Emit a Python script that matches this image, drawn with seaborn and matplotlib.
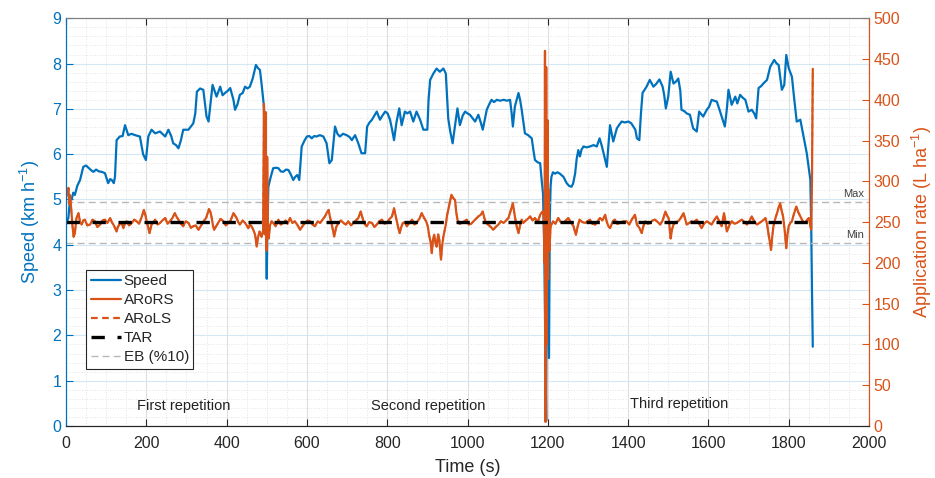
import seaborn as sb
import matplotlib.pyplot as plt
from matplotlib.ticker import MultipleLocator
from matplotlib.lines import Line2D

sb.set_style('ticks')
plt.rcParams['font.family'] = ['Liberation Sans', 'DejaVu Sans']
plt.rcParams['mathtext.default'] = 'regular'

azul = '#0072BD'
laranja = '#D95319'

# velocidade (km/h)
tempo_vel = [0, 2, 6, 10, 14, 18, 22, 28, 35, 43, 50, 56, 62, 68, 75, 82, 89, 97, 105, 110, 114, 119, 122,
             126, 134, 141, 147, 155, 163, 172, 184, 192, 199, 205, 213, 222, 234, 247, 255, 262, 267, 274,
             280, 286, 292, 305, 317, 322, 326, 334, 342, 350, 355, 365, 375, 384, 390, 396, 403, 409, 417,
             421, 427, 433, 440, 446, 452, 458, 465, 473, 478, 483, 487, 493, 496, 498, 500, 502, 504, 510,
             516, 523, 529, 535, 541, 548, 554, 560, 566, 571, 576, 581, 587, 594, 600, 606, 612, 618, 624,
             632, 641, 649, 656, 662, 670, 676, 682, 690, 699, 706, 712, 720, 728, 736, 745, 750, 756, 762,
             768, 774, 782, 788, 795, 801, 807, 812, 817, 823, 830, 836, 844, 850, 857, 865, 873, 882, 890,
             900, 903, 907, 915, 923, 931, 940, 946, 952, 957, 963, 970, 975, 981, 988, 994, 1000, 1006,
             1012, 1019, 1027, 1033, 1038, 1044, 1048, 1054, 1060, 1066, 1073, 1081, 1090, 1098, 1106, 1110,
             1113, 1118, 1127, 1131, 1135, 1140, 1143, 1151, 1160, 1164, 1168, 1175, 1181, 1185, 1188, 1191,
             1193, 1195, 1196, 1197, 1199, 1201, 1203, 1205, 1207, 1209, 1213, 1218, 1224, 1230, 1239, 1247,
             1253, 1259, 1263, 1268, 1272, 1276, 1280, 1284, 1289, 1297, 1305, 1314, 1322, 1329, 1334, 1339,
             1347, 1351, 1355, 1363, 1372, 1378, 1384, 1392, 1401, 1408, 1413, 1418, 1422, 1428, 1432, 1436,
             1446, 1454, 1463, 1470, 1478, 1486, 1490, 1494, 1500, 1506, 1513, 1519, 1525, 1530, 1533, 1540,
             1546, 1554, 1562, 1571, 1577, 1587, 1596, 1602, 1608, 1614, 1621, 1627, 1633, 1641, 1646, 1650,
             1658, 1667, 1672, 1679, 1685, 1692, 1700, 1708, 1714, 1719, 1725, 1731, 1737, 1746, 1754, 1764,
             1770, 1775, 1779, 1783, 1789, 1794, 1800, 1808, 1814, 1820, 1829, 1837, 1845, 1850, 1854, 1856,
             1858, 1860]
velocidade = [4.45, 4.5, 4.6, 5.0, 5.0, 5.15, 5.1, 5.3, 5.43, 5.72, 5.75, 5.7, 5.65, 5.61, 5.66, 5.62, 5.61,
              5.58, 5.36, 5.45, 5.43, 5.36, 5.5, 6.31, 6.39, 6.4, 6.64, 6.42, 6.45, 6.42, 6.39, 6.0, 5.87,
              6.39, 6.54, 6.46, 6.5, 6.39, 6.54, 6.4, 6.24, 6.2, 6.13, 6.3, 6.54, 6.54, 6.68, 6.9, 7.38, 7.45,
              7.42, 6.83, 6.72, 7.53, 7.27, 7.49, 7.3, 7.35, 7.4, 7.46, 7.2, 6.98, 7.1, 7.31, 7.35, 7.49,
              7.45, 7.49, 7.67, 7.97, 7.9, 7.86, 7.56, 7.05, 6.0, 4.5, 3.25, 4.6, 5.28, 5.5, 5.69, 5.7, 5.69,
              5.62, 5.61, 5.66, 5.65, 5.55, 5.43, 5.5, 5.54, 5.43, 6.17, 6.3, 6.39, 6.4, 6.35, 6.4, 6.39,
              6.42, 6.39, 6.24, 5.8, 5.87, 6.61, 6.45, 6.39, 6.45, 6.42, 6.38, 6.31, 6.42, 6.24, 6.02, 6.02,
              6.61, 6.7, 6.76, 6.85, 6.94, 6.76, 6.85, 6.94, 6.9, 6.76, 6.55, 6.31, 6.7, 7.01, 6.64, 6.94,
              6.9, 6.94, 6.72, 6.94, 6.76, 6.54, 6.54, 7.2, 7.64, 7.78, 7.89, 7.82, 7.89, 7.78, 6.79, 6.5,
              6.24, 6.7, 7.01, 6.64, 6.85, 6.94, 6.9, 6.87, 6.8, 6.72, 6.87, 6.7, 6.54, 6.8, 6.98, 7.1, 7.2,
              7.15, 7.2, 7.18, 7.2, 7.18, 7.2, 6.9, 6.61, 7.05, 7.35, 7.2, 6.98, 6.65, 6.46, 6.42, 6.35, 6.1,
              5.87, 5.82, 5.8, 5.4, 5.14, 4.0, 2.5, 0.8, 0.12, 3.0, 4.8, 3.2, 1.5, 4.6, 5.3, 5.5, 5.6, 5.57,
              5.6, 5.57, 5.5, 5.36, 5.3, 5.28, 5.35, 5.57, 5.9, 6.09, 5.95, 6.1, 6.17, 6.15, 6.17, 6.2, 6.17,
              6.35, 6.2, 6.02, 5.72, 6.2, 6.64, 6.28, 6.57, 6.65, 6.72, 6.7, 6.72, 6.68, 6.61, 6.54, 6.35,
              6.31, 6.9, 7.35, 7.49, 7.64, 7.49, 7.55, 7.65, 7.49, 7.3, 7.01, 7.27, 7.82, 7.56, 7.6, 7.67,
              7.4, 6.98, 6.95, 6.9, 6.87, 6.57, 6.5, 6.94, 6.83, 6.98, 7.05, 7.2, 7.18, 7.16, 7.0, 6.83,
              6.61, 7.0, 7.42, 7.09, 7.27, 7.12, 7.31, 7.25, 7.2, 6.94, 6.98, 6.9, 6.79, 7.46, 7.5, 7.56,
              7.64, 7.93, 8.08, 8.0, 7.97, 7.7, 7.42, 7.53, 8.19, 7.9, 7.71, 7.2, 6.72, 6.76, 6.39, 6.02, 5.7,
              5.43, 4.5, 3.0, 1.75]

# taxa de aplicacao (L/ha)
tempo_taxa = [0, 2, 4, 6, 8, 10, 13, 16, 19, 22, 26, 31, 35, 39, 43, 47, 53, 60, 66, 72, 78, 85, 91, 97, 103,
              110, 114, 118, 122, 126, 129, 133, 138, 143, 147, 151, 157, 164, 170, 176, 182, 189, 194, 198,
              201, 205, 208, 213, 218, 222, 228, 234, 240, 247, 253, 259, 265, 271, 276, 280, 286, 292, 298,
              305, 311, 317, 323, 330, 334, 338, 344, 349, 356, 360, 363, 366, 369, 374, 379, 385, 392, 398,
              404, 410, 417, 421, 425, 429, 433, 440, 446, 450, 454, 458, 462, 467, 471, 475, 478, 482, 487,
              491, 493, 495, 497, 499, 501, 503, 505, 508, 512, 516, 522, 529, 535, 541, 547, 552, 558, 564,
              570, 577, 583, 589, 595, 602, 608, 614, 620, 627, 633, 639, 645, 650, 654, 658, 662, 668, 673,
              679, 685, 691, 697, 703, 710, 716, 722, 728, 734, 738, 741, 745, 749, 755, 762, 768, 774, 780,
              787, 793, 799, 806, 812, 817, 820, 824, 828, 831, 835, 839, 844, 849, 855, 862, 868, 873, 880,
              886, 892, 897, 901, 905, 908, 911, 914, 917, 920, 923, 927, 930, 932, 934, 937, 940, 943, 946,
              949, 952, 956, 960, 964, 969, 972, 975, 980, 986, 992, 998, 1003, 1009, 1015, 1021, 1027, 1033,
              1038, 1042, 1046, 1051, 1056, 1060, 1064, 1070, 1077, 1083, 1090, 1096, 1102, 1107, 1110, 1113,
              1116, 1118, 1122, 1127, 1131, 1135, 1139, 1143, 1150, 1156, 1162, 1168, 1175, 1181, 1185, 1188,
              1190, 1192, 1193, 1194.5, 1196, 1197.5, 1199, 1200.5, 1202, 1204, 1207, 1213, 1219, 1226, 1232,
              1239, 1245, 1251, 1257, 1264, 1270, 1274, 1279, 1286, 1293, 1299, 1305, 1311, 1318, 1324, 1330,
              1336, 1343, 1347, 1351, 1355, 1362, 1367, 1373, 1380, 1388, 1396, 1403, 1409, 1417, 1422, 1428,
              1434, 1438, 1443, 1449, 1455, 1461, 1467, 1474, 1480, 1486, 1493, 1497, 1501, 1504, 1506, 1509,
              1513, 1519, 1525, 1531, 1538, 1542, 1546, 1552, 1558, 1564, 1571, 1577, 1583, 1589, 1596, 1602,
              1608, 1614, 1621, 1627, 1633, 1639, 1643, 1646, 1652, 1658, 1665, 1671, 1677, 1683, 1690, 1696,
              1702, 1708, 1714, 1721, 1727, 1733, 1738, 1742, 1746, 1750, 1753, 1756, 1759, 1762, 1767, 1771,
              1775, 1779, 1782, 1786, 1790, 1794, 1797, 1800, 1804, 1808, 1813, 1819, 1824, 1829, 1834, 1839,
              1845, 1850, 1853, 1856, 1858, 1860]
taxa_rs = [280, 290, 284, 292, 272, 283, 266, 246, 232, 236, 255, 261, 250, 247, 252, 253, 246, 247, 253, 251,
           244, 247, 252, 253, 249, 255, 250, 247, 243, 238.5, 244, 247, 250, 242.6, 249, 251, 246, 249, 253,
           251, 248, 257, 265, 258, 251, 243, 236.5, 247, 250, 253, 247, 249, 252, 255, 248, 251, 255, 261,
           256, 253, 248, 245, 251, 249, 243, 245, 246, 240.6, 244, 247, 252, 255, 266, 262, 255, 246, 240.6,
           245, 249, 254, 251, 246, 249, 252, 261, 258, 255, 250, 247, 252, 249, 246, 242.6, 247, 245, 240,
           234.5, 220, 231, 238.5, 232, 240, 395, 235, 385, 215, 330, 240, 230, 246, 251, 249, 245, 253, 247,
           249, 252, 248, 255, 249, 251, 246, 240.6, 245, 249, 252, 251, 247, 245, 251, 249, 253, 257, 262,
           265, 255, 247, 232.4, 244, 249, 252, 249, 247, 251, 246, 249, 252, 255, 263, 256, 251, 247, 245,
           250, 249, 244, 247, 251, 253, 248, 249, 254, 257, 267, 260, 251, 242, 236.5, 244, 249, 250, 245,
           249, 253, 247, 249, 254, 261, 255, 251, 245, 232.4, 226, 212, 228, 234.5, 225, 220, 235, 228, 215,
           204, 222, 232.4, 240, 247, 258, 265, 274, 283.5, 280, 277, 262, 253, 248, 249, 251, 253, 247, 248,
           251, 254, 257, 259, 263, 255, 249, 247, 245, 243, 240.6, 244, 247, 251, 249, 252, 255, 263, 268,
           273, 263, 257, 246, 236.5, 246, 253, 249, 251, 254, 257, 252, 255, 250, 259, 262, 263, 255, 200,
           460, 5, 440, 100, 375, 180, 290, 215, 245, 251, 248, 255, 250, 249, 252, 255, 250, 245, 234.5, 244,
           253, 250, 249, 251, 253, 248, 247, 251, 255, 252, 259, 250, 245, 242.6, 251, 253, 248, 249, 251,
           251, 247, 253, 259, 247, 243, 236.5, 245, 251, 248, 249, 252, 253, 250, 247, 252, 263, 258, 255,
           240, 230, 240, 247, 250, 251, 255, 261, 254, 247, 249, 251, 250, 253, 248, 242.6, 248, 251, 249,
           247, 252, 257, 251, 245, 261, 248, 238.5, 246, 251, 248, 249, 251, 253, 250, 247, 251, 257, 251,
           247, 249, 251, 253, 255, 248, 234.5, 226, 216, 232, 245, 255, 261, 268, 273, 265, 257, 240, 218,
           235, 245, 249, 251, 260, 269, 262, 257, 252, 249, 252, 255, 248, 240.6, 300, 438]
# ARoLS fica praticamente sobreposta a ARoRS
taxa_ls = list(taxa_rs)

tar = 250
eb_limites = [225, 275]
tempo_tar = [0, 1860]

fig = plt.figure(figsize=(9.35, 4.78), dpi=100)
ax1 = fig.add_axes([0.0706, 0.1088, 0.8588, 0.853])
ax2 = ax1.twinx()

# grade estilo matlab
ax1.set_axisbelow(True)
ax1.xaxis.set_minor_locator(MultipleLocator(50))
ax1.yaxis.set_minor_locator(MultipleLocator(0.2))
ax1.grid(axis='x', which='major', color='#dedede', lw=0.8)
ax1.grid(axis='y', which='major', color='#d6e7f4', lw=0.8)
ax1.grid(axis='both', which='minor', color='#e3e3e3', lw=0.7, ls=':')

sb.lineplot(x=tempo_vel, y=velocidade, ax=ax1, color=azul, lw=1.6, sort=False, estimator=None)

for lim in eb_limites:
    sb.lineplot(x=[0, 2000], y=[lim, lim], ax=ax2, color='#b8b8b8', lw=1.0, linestyle=(0, (5, 3)),
                sort=False, estimator=None)
sb.lineplot(x=tempo_taxa, y=taxa_rs, ax=ax2, color=laranja, lw=1.6, sort=False, estimator=None)
sb.lineplot(x=tempo_taxa, y=taxa_ls, ax=ax2, color=laranja, lw=1.2, linestyle=(0, (3, 2)),
            sort=False, estimator=None)
sb.lineplot(x=tempo_tar, y=[tar, tar], ax=ax2, color='black', lw=2.4, linestyle=(0, (4, 3.8)),
            sort=False, estimator=None)

ax2.text(1987, 285, 'Max', ha='right', va='center', fontsize=8, color='#404040')
ax2.text(1987, 234, 'Min', ha='right', va='center', fontsize=8, color='#404040')

ax1.text(294, 0.44, 'First repetition', ha='center', va='center', fontsize=10.5, color='#222222')
ax1.text(902, 0.44, 'Second repetition', ha='center', va='center', fontsize=10.5, color='#222222')
ax1.text(1527, 0.49, 'Third repetition', ha='center', va='center', fontsize=10.5, color='#222222')

ax1.set_xlim(0, 2000)
ax1.set_ylim(0, 9)
ax2.set_ylim(0, 500)
ax1.set_xticks(range(0, 2001, 200))
ax1.set_yticks(range(0, 10))
ax2.set_yticks(range(0, 501, 50))

ax1.set_xlabel('Time (s)', fontsize=13, color='#262626', labelpad=6)
ax1.set_ylabel('Speed (km h$^{-1}$)', fontsize=13, color=azul, labelpad=7)
ax2.set_ylabel('Application rate (L ha$^{-1}$)', fontsize=13, color=laranja, labelpad=7)

ax1.tick_params(axis='x', which='major', direction='in', top=True, length=5, labelsize=11.5,
                colors='#262626', pad=7)
ax1.tick_params(axis='y', which='major', direction='in', length=5, labelsize=11.5, colors=azul)
ax2.tick_params(axis='y', which='major', direction='in', length=5, labelsize=11.5, colors=laranja)
ax1.tick_params(which='minor', length=0)
ax2.tick_params(which='minor', length=0)

for ax in (ax1, ax2):
    ax.spines['top'].set_color('#808080')
    ax.spines['bottom'].set_color('#262626')
    ax.spines['left'].set_color(azul)
    ax.spines['right'].set_color(laranja)
    for s in ax.spines.values():
        s.set_linewidth(0.8)

handles = [
    Line2D([], [], color=azul, lw=1.6),
    Line2D([], [], color=laranja, lw=1.6),
    Line2D([], [], color=laranja, lw=1.6, ls=(0, (3, 2))),
    Line2D([], [], color='black', lw=2.4, ls=(0, (4, 3.8))),
    Line2D([], [], color='#b8b8b8', lw=1.0, ls=(0, (5, 3))),
]
nomes = ['Speed', 'ARoRS', 'ARoLS', 'TAR', 'EB (%10)']
leg = ax2.legend(handles, nomes, loc='upper left', bbox_to_anchor=(0.025, 0.383), fontsize=11,
                 frameon=True, fancybox=False, framealpha=1, edgecolor='#262626', handlelength=2.0,
                 handletextpad=0.15, labelspacing=0.32, borderpad=0.3, borderaxespad=0)
leg.get_frame().set_linewidth(0.8)

fig.savefig('out.png', dpi=100)
